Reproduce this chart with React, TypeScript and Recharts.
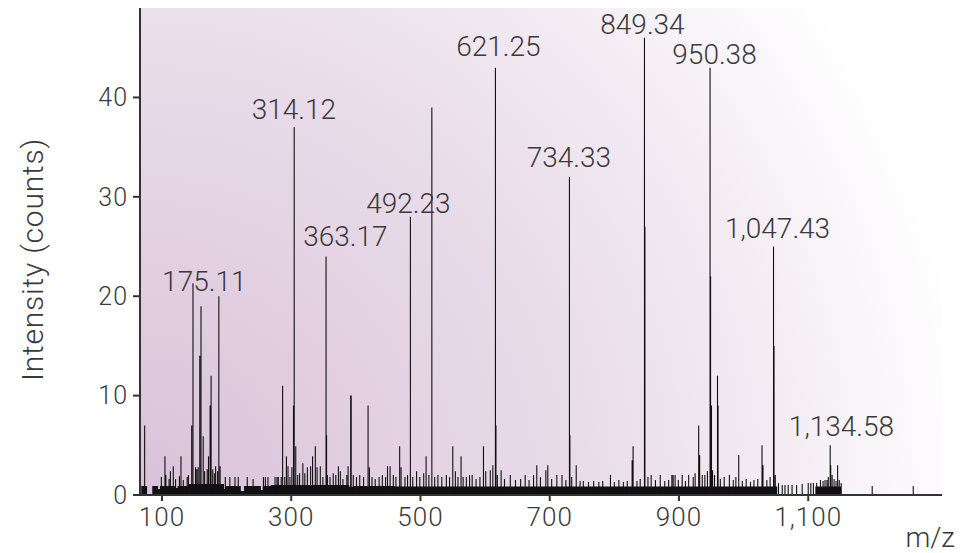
import {
  ComposedChart,
  Line,
  Area,
  XAxis,
  YAxis,
  CartesianGrid,
  ReferenceDot,
  Label,
} from 'recharts';

// main peaks (m/z, counts)
const peakMz = [
  73.2, 146, 148, 158.5, 160.4, 174.5, 176, 188, 286.7, 303.5, 304.6, 353.9, 354.7,
  392, 392.8, 418.9, 484.4, 517.6, 616, 616.8, 730.5, 731.2, 846.6, 847.3, 948.1,
  948.9, 950.3, 959.6, 960.5, 1046.3, 1047.1, 1134, 1134.8, 1145.5, 1199, 1262.5,
];
const peakCounts = [
  7, 7, 21.3, 14, 19, 9, 12, 20, 11, 9, 37, 24, 6,
  10, 10, 9, 28, 39, 43, 7, 32, 6, 46, 27, 43,
  22, 9, 12, 9, 25, 15, 5, 3, 3, 0.9, 0.9,
];

// small noise sticks
const noiseMz = [
  99, 104.6, 106, 111, 113, 117.5, 121, 127, 129.4, 133, 139, 141, 152, 154, 156, 163.8,
  166, 170, 172, 178.5, 181, 183, 186, 190, 198, 205, 213, 218, 232, 241, 257, 260, 264,
  275, 278, 280, 284.5, 290, 292.6, 295, 298,
  301, 307, 310, 313, 318, 321, 325, 330, 333, 337.3, 340, 345, 349, 356, 360, 365, 369,
  373, 376, 380, 386, 388, 396, 401, 406, 412, 421, 425, 430, 436, 441, 446, 449, 453,
  458, 462, 467.8, 470, 476, 480, 488, 494, 499, 505, 508.7, 513, 522, 527, 533, 540,
  545, 550, 554, 558, 562.8, 566, 571, 576, 580, 586, 592, 597.5, 601,
  608, 612, 619, 624.8, 630, 639, 647, 655, 662, 668, 675, 680, 685.6, 694, 697, 703,
  711, 719, 725, 734, 741, 747, 752, 760, 768, 776, 782, 794, 800, 807, 814, 820, 827.5,
  829, 835, 840, 852, 857, 863.6, 871, 878, 884, 889, 891, 894, 899, 905, 910, 915,
  922, 925, 930.5, 932, 936, 940, 944, 952, 955, 964, 970, 978, 984, 988, 992.5, 998,
  1004, 1010.7, 1016, 1022, 1028.5, 1030, 1036, 1041, 1049, 1054, 1059.8, 1064, 1069,
  1075, 1082, 1090.7, 1100, 1104, 1108, 1113, 1119, 1123, 1126, 1129, 1131, 1137, 1140,
  1143, 1148, 1151,
];
const noiseCounts = [
  1.8, 3.9, 2, 1.6, 2.4, 2.9, 1.6, 1.9, 3.9, 1.5, 1.8, 2, 2.8, 2.6, 2.8, 5.9,
  2.4, 2.6, 3.9, 2.6, 2.2, 2.9, 2.4, 2.9, 1.8, 1.8, 1.8, 1.8, 1.8, 1.6, 1.8, 1.8, 1.8,
  1.8, 1.8, 1.8, 1.8, 1.8, 3.9, 2.9, 1.8,
  2.8, 4.9, 2, 2.2, 3.2, 2.2, 2.8, 2.9, 3.9, 4.9, 2.8, 2.9, 1.8, 2, 1.8, 2.2, 2,
  2.9, 2.4, 1.6, 2, 2.9, 2, 1.8, 2, 1.8, 2.8, 1.8, 1.6, 1.8, 2, 1.8, 2.9, 2.9,
  2, 1.8, 4.9, 2.8, 1.8, 2, 1.8, 2.4, 1.8, 2.2, 3.9, 2, 1.8, 2, 1.8, 2,
  1.8, 4.9, 2.4, 1.8, 3.9, 1.8, 1.8, 2, 2, 1.6, 1.8, 4.9, 2.4,
  2.5, 3, 2, 2.5, 1.6, 2, 1.5, 1.6, 2, 1.5, 2, 3, 1.8, 2.5, 3, 1.6,
  2, 2, 1.5, 1.8, 3, 1.4, 1.4, 1.3, 1.4, 1.3, 1.4, 2, 1.3, 1.5, 1.3, 1.4, 3.5,
  4.9, 1.4, 1.6, 1.8, 2, 1.5, 2, 1.4, 1.5, 2, 2, 2, 1.5, 2, 1.4, 2,
  1.8, 2.2, 7, 4, 2, 2, 2.4, 2.5, 2, 1.6, 1.8, 2, 1.5, 1.8, 4, 1.4,
  1.6, 1.3, 1.5, 1.6, 5, 3, 1.5, 1.8, 2, 1.2, 1, 1, 1,
  1, 1, 1.1, 1.2, 1.2, 1.2, 1.2, 1.5, 1.4, 1.5, 1.5, 1.8, 2, 1.6,
  1.4, 1.5, 1.2,
];

// dense noise floor along the baseline (step levels)
const floorMz = [
  66, 68, 77, 85, 94, 97, 121, 124, 141, 196, 198, 222, 227, 253, 256, 268, 390, 395,
  460, 640, 780, 1052, 1111, 1151, 1307,
];
const floorCounts = [
  0, 0.9, 0, 0.9, 0.6, 0.9, 0.7, 0.9, 1.1, 0.6, 0.9, 0.4, 0.9, 0.5, 0.9, 1.0, 0.8, 0.9,
  0.85, 0.85, 0.85, 0, 0.85, 0, 0,
];

const labelText = [
  '175.11', '314.12', '363.17', '492.23', '621.25', '734.33', '849.34', '950.38',
  '1,047.43', '1,134.58',
];
const labelMz = [165.5, 304, 383.7, 481.3, 620.6, 729.7, 843.5, 955, 1052.5, 1151.5];
const labelCounts = [21.5, 38.8, 26.1, 29.4, 45.2, 34.0, 47.4, 44.4, 26.9, 6.9];

const xTicks = [100, 300, 500, 700, 900, 1100];
const yTicks = [0, 10, 20, 30, 40];

const sticks = [
  ...peakMz.map((mz, i) => ({ mz, h: peakCounts[i] })),
  ...noiseMz.map((mz, i) => ({ mz, h: noiseCounts[i] })),
].sort((a, b) => a.mz - b.mz);

const stickData = sticks.flatMap((s) => [
  { mz: s.mz, counts: 0 },
  { mz: s.mz, counts: s.h },
  { mz: s.mz, counts: 0 },
]);

const floorData = floorMz.map((mz, i) => ({ mz, level: floorCounts[i] }));

const font = 'Roboto, "Noto Sans", sans-serif';
const textColor = '#3a3a3a';

export default function App() {
  return (
    <div style={{ position: 'absolute', left: 0, top: 0, background: '#fff' }}>
      <ComposedChart
        width={961}
        height={553}
        margin={{ top: 8, right: 19, bottom: 0, left: 0 }}
      >
        <defs>
          <radialGradient id="bgGlow" gradientUnits="userSpaceOnUse" cx={140} cy={495} r={880}>
            <stop offset="0%" stopColor="#d9c2d9" />
            <stop offset="50%" stopColor="#e9dce9" />
            <stop offset="75%" stopColor="#f4eef4" />
            <stop offset="95%" stopColor="#ffffff" />
          </radialGradient>
        </defs>
        <CartesianGrid horizontal={false} vertical={false} fill="url(#bgGlow)" />
        <XAxis
          dataKey="mz"
          type="number"
          domain={[66, 1307]}
          ticks={xTicks}
          allowDataOverflow
          height={58}
          tickSize={6}
          tickMargin={7}
          tickFormatter={(v: number) => v.toLocaleString('en-US')}
          stroke="#333"
          strokeWidth={2}
          tick={{ fill: textColor, fontSize: 26, fontFamily: font, fontWeight: 300, letterSpacing: 1 }}
        >
          <Label
            content={({ viewBox }: any) => (
              <text
                x={viewBox.x + viewBox.width + 13}
                y={viewBox.y + viewBox.height - 6}
                textAnchor="end"
                fill={textColor}
                fontSize={28}
                fontFamily={font}
                fontWeight={300}
              >
                m/z
              </text>
            )}
          />
        </XAxis>
        <YAxis
          type="number"
          domain={[0, 49]}
          ticks={yTicks}
          width={140}
          tickSize={7}
          tickMargin={5}
          stroke="#333"
          strokeWidth={2}
          tick={{ fill: textColor, fontSize: 25, fontFamily: font, fontWeight: 300, letterSpacing: 1 }}
        >
          <Label
            content={({ viewBox }: any) => {
              const cx = viewBox.x + 32;
              const cy = viewBox.y + viewBox.height / 2 + 8;
              return (
                <text
                  x={cx}
                  y={cy}
                  transform={`rotate(-90 ${cx} ${cy})`}
                  textAnchor="middle"
                  dominantBaseline="central"
                  fill={textColor}
                  fontSize={30}
                  letterSpacing={0.8}
                  fontFamily={font}
                  fontWeight={300}
                >
                  Intensity (counts)
                </text>
              );
            }}
          />
        </YAxis>
        <Area
          data={floorData}
          dataKey="level"
          type="stepAfter"
          fill="#111"
          fillOpacity={1}
          stroke="none"
          isAnimationActive={false}
        />
        <Line
          data={stickData}
          dataKey="counts"
          type="linear"
          stroke="#111"
          strokeWidth={1.1}
          dot={false}
          activeDot={false}
          isAnimationActive={false}
        />
        {labelText.map((t, i) => (
          <ReferenceDot
            key={t}
            x={labelMz[i]}
            y={labelCounts[i]}
            r={0}
            fill="none"
            stroke="none"
            label={{
              value: t,
              position: 'center',
              fill: textColor,
              fontSize: 28,
              fontFamily: font,
              fontWeight: 300,
            }}
          />
        ))}
      </ComposedChart>
    </div>
  );
}
